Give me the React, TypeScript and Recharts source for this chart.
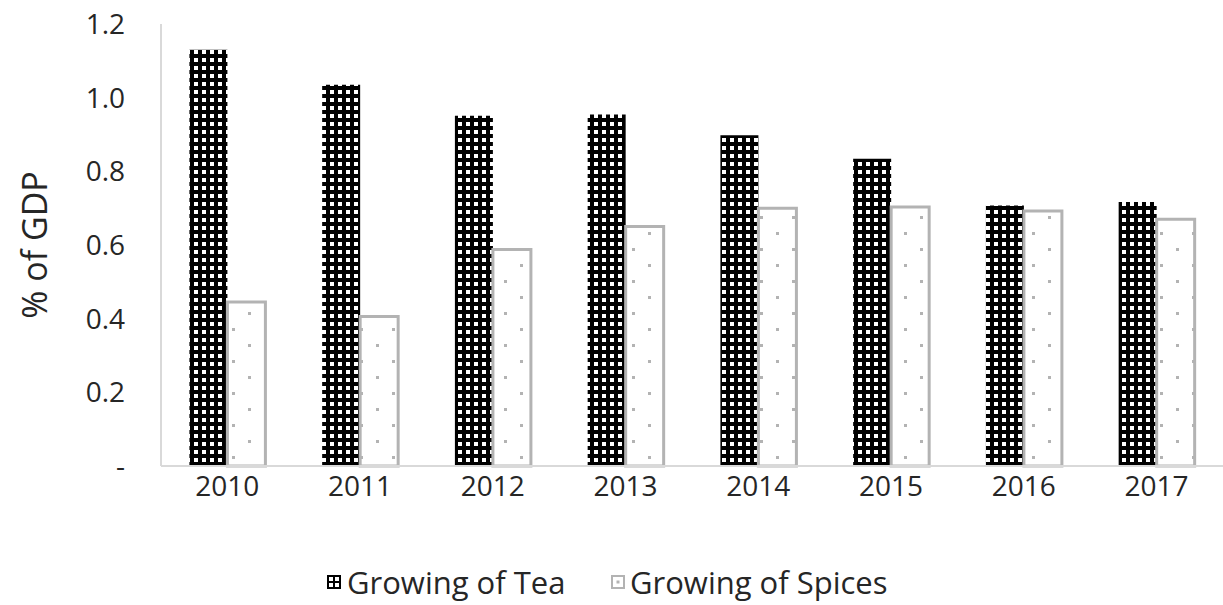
import React from "react";
import { BarChart, Bar, XAxis, YAxis } from "recharts";

const years = ["2010", "2011", "2012", "2013", "2014", "2015", "2016", "2017"];
const teaShare = [1.13, 1.035, 0.951, 0.954, 0.898, 0.834, 0.707, 0.717];
const spiceShare = [0.445, 0.406, 0.588, 0.65, 0.7, 0.703, 0.692, 0.67];
const yTicks = [0, 0.2, 0.4, 0.6, 0.8, 1.0, 1.2];

const data = years.map((year, i) => ({
  year,
  tea: teaShare[i],
  spices: spiceShare[i],
}));

const FONT = "'Open Sans', sans-serif";
const TEXT = "#262626";
const FRAME = "#d9d9d9";
const SPICE_LINE = "#b3b3b3";

const yLabel = () => (
  <text
    x={34}
    y={245}
    transform="rotate(-90 34 245)"
    textAnchor="middle"
    dominantBaseline="central"
    fontFamily={FONT}
    fontSize={34}
    fill={TEXT}
  >
    % of GDP
  </text>
);

const legendItem: React.CSSProperties = {
  position: "absolute",
  top: 563,
  display: "flex",
  alignItems: "center",
  fontFamily: FONT,
  fontSize: 31,
  color: TEXT,
  whiteSpace: "nowrap",
  lineHeight: "38px",
};

function LegendRow() {
  return (
    <>
      <div style={{ ...legendItem, left: 327 }}>
        <svg width={14} height={14} style={{ marginRight: 6 }}>
          <rect width={14} height={14} fill="#000" />
          <rect x={2} y={2} width={4} height={4} fill="#fff" />
          <rect x={8} y={2} width={4} height={4} fill="#fff" />
          <rect x={2} y={8} width={4} height={4} fill="#fff" />
          <rect x={8} y={8} width={4} height={4} fill="#fff" />
        </svg>
        Growing of Tea
      </div>
      <div style={{ ...legendItem, left: 611 }}>
        <svg width={14} height={14} style={{ marginRight: 5 }}>
          <rect x={1} y={1} width={12} height={12} fill="#fff" stroke={SPICE_LINE} strokeWidth={2} />
          <rect x={5.5} y={5.5} width={3} height={3} fill={SPICE_LINE} />
        </svg>
        Growing of Spices
      </div>
    </>
  );
}

export default function App() {
  return (
    <div style={{ position: "relative", width: 1223, height: 605, background: "#fff", overflow: "hidden" }}>
      <style>{`body{margin:0}`}</style>
      <BarChart
        width={1223}
        height={605}
        data={data}
        margin={{ top: 24, right: 0, bottom: 0, left: 0 }}
        barCategoryGap="21.4%"
        barGap={0}
      >
        <defs>
          <pattern id="teaPattern" patternUnits="userSpaceOnUse" width={8} height={8}>
            <rect width={8} height={8} fill="#000" />
            <rect x={2} y={2} width={4} height={4} fill="#fff" />
          </pattern>
          <pattern id="spicePattern" patternUnits="userSpaceOnUse" width={32} height={32}>
            <rect width={32} height={32} fill="#fff" />
            <rect x={8} y={8} width={3} height={3} fill={SPICE_LINE} />
            <rect x={24} y={24} width={3} height={3} fill={SPICE_LINE} />
          </pattern>
        </defs>
        <XAxis
          dataKey="year"
          height={139}
          tickLine={false}
          tickSize={0}
          tickMargin={10}
          axisLine={{ stroke: FRAME, strokeWidth: 2 }}
          tick={{ fontFamily: FONT, fontSize: 28, fill: TEXT }}
        />
        <XAxis
          xAxisId="top"
          dataKey="year"
          orientation="top"
          height={0}
          tick={false}
          tickLine={false}
          axisLine={{ stroke: FRAME, strokeWidth: 2 }}
        />
        <YAxis
          width={161}
          domain={[0, 1.2]}
          ticks={yTicks}
          interval={0}
          tickLine={false}
          tickSize={0}
          tickMargin={36}
          axisLine={{ stroke: FRAME, strokeWidth: 2 }}
          tick={{ fontFamily: FONT, fontSize: 28, fill: TEXT }}
          tickFormatter={(v: number) => (v === 0 ? "-" : v.toFixed(1))}
          label={yLabel}
        />
        <Bar dataKey="tea" fill="url(#teaPattern)" isAnimationActive={false} />
        <Bar
          dataKey="spices"
          fill="url(#spicePattern)"
          stroke={SPICE_LINE}
          strokeWidth={3}
          isAnimationActive={false}
        />
      </BarChart>
      <LegendRow />
    </div>
  );
}
